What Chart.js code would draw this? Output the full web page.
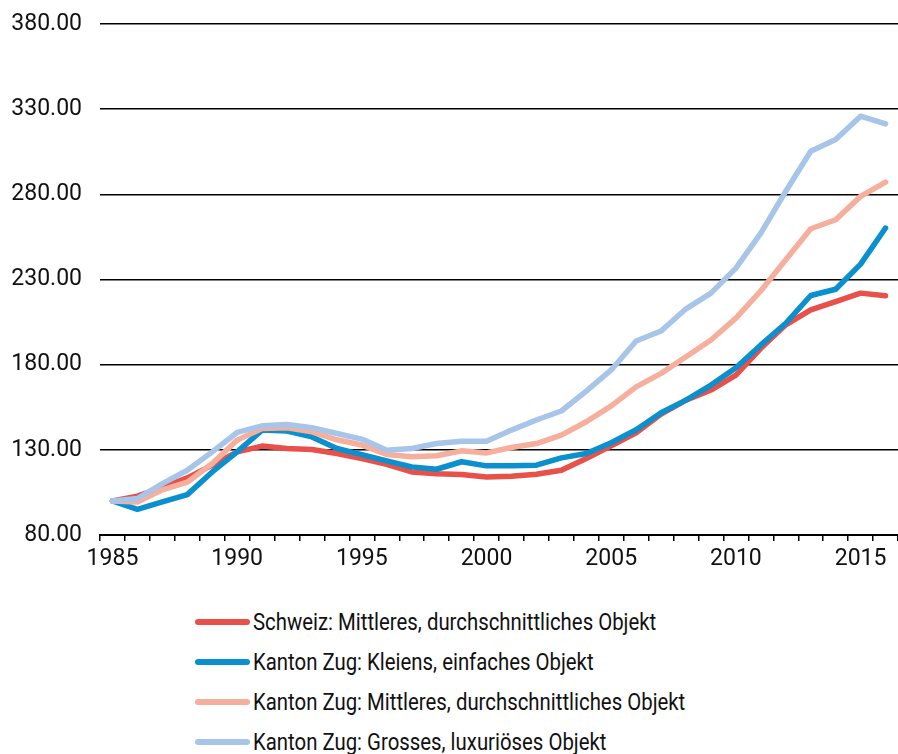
<!DOCTYPE html>
<html>
<head>
<meta charset="utf-8">
<script src="https://cdn.jsdelivr.net/npm/chart.js@4/dist/chart.umd.min.js"></script>
<style>
  html, body { margin: 0; padding: 0; background: #fff; }
  #wrap { position: absolute; left: 0; top: 0; width: 898px; height: 580px; }
  #legend { position: absolute; left: 195px; top: 602px; font-family: Roboto, sans-serif; font-size: 23px; color: #111; }
  .item { height: 40px; display: flex; align-items: center; white-space: nowrap; }
  .swatch { width: 55px; height: 6px; border-radius: 3px; margin-right: 3px; flex: none; }
  .txt { display: inline-block; transform: scaleX(0.885); transform-origin: left center; }
</style>
</head>
<body>
<div id="wrap"><canvas id="chart"></canvas></div>
<div id="legend"></div>
<script>
var years = [1985, 1986, 1987, 1988, 1989, 1990, 1991, 1992, 1993, 1994, 1995, 1996, 1997, 1998, 1999, 2000,
             2001, 2002, 2003, 2004, 2005, 2006, 2007, 2008, 2009, 2010, 2011, 2012, 2013, 2014, 2015, 2016];

var schweizMittel = [100, 102.8, 108, 113.5, 121, 128.8, 132.2, 130.8, 130.2, 127.8, 124.9, 121.5, 117, 116, 115.5, 114.1,
                     114.5, 115.7, 118, 124.9, 132.3, 140, 151, 159.2, 165.1, 173.9, 189.6, 203.4, 212.2, 217, 222, 220.4];
var zugKlein = [100, 95.1, 99.4, 103.7, 117, 128.8, 141.6, 141, 137.6, 130.8, 127.2, 123.5, 120, 118.6, 123, 120.6,
                120.6, 121, 125.3, 127.8, 134.2, 141.8, 151.8, 159.2, 168, 178.2, 191.6, 204.3, 220.6, 224.3, 239, 260.2];
var zugMittel = [100, 99.4, 106.5, 111, 122, 135.7, 142.5, 143, 140.6, 135.9, 132.8, 127.3, 125.9, 126.5, 129.4, 128.2,
                 131.4, 133.7, 138.6, 146.5, 155.8, 167, 174.9, 184.7, 194.5, 207.3, 223.4, 241.6, 259.8, 265.1, 278.8, 287.2];
var zugGross = [100, 101.4, 110.2, 118, 128.8, 140.2, 144.1, 144.9, 143, 139.6, 136.3, 129.8, 130.8, 133.7, 135.1, 135.1,
                141.6, 147.5, 152.8, 164.5, 176.9, 193.9, 199.8, 212.8, 222, 236.7, 257.2, 281.8, 305.3, 312.2, 325.9, 321.4];

var seriesNames = ["Schweiz: Mittleres, durchschnittliches Objekt", "Kanton Zug: Kleiens, einfaches Objekt",
                   "Kanton Zug: Mittleres, durchschnittliches Objekt", "Kanton Zug: Grosses, luxuriöses Objekt"];
var colors = ["#e8504a", "#0a8fcf", "#f6ae9d", "#a6c5e8"];

var yMin = 80, yMax = 380, yStep = 50;
var font = "Roboto, sans-serif";

function line(i, values) {
    return {
        label: seriesNames[i],
        data: values,
        borderColor: colors[i],
        backgroundColor: colors[i],
        borderWidth: 5.5,
        pointRadius: 0,
        tension: 0,
        borderCapStyle: "round",
        borderJoinStyle: "round",
        order: 4 - i
    };
}

var ctx = document.getElementById("chart").getContext("2d");
var chart = new Chart(ctx, {
    type: "line",
    data: {
        labels: years,
        datasets: [line(0, schweizMittel), line(1, zugKlein), line(2, zugMittel), line(3, zugGross)]
    },
    options: {
        responsive: true,
        maintainAspectRatio: false,
        animation: false,
        layout: { padding: { top: 24, right: 0, left: 0, bottom: 0 } },
        plugins: { legend: { display: false }, tooltip: { enabled: false } },
        scales: {
            x: {
                type: "category",
                offset: true,
                grid: { offset: true, drawOnChartArea: false, drawTicks: true, tickLength: 6, color: "#000", lineWidth: 1.5 },
                border: { display: true, color: "#000", width: 2 },
                ticks: {
                    autoSkip: false,
                    maxRotation: 0,
                    padding: 4,
                    color: "#111",
                    font: { family: font, size: 23 },
                    callback: function (v, i) { return years[i] % 5 === 0 ? String(years[i]) : ""; }
                },
                afterFit: function (s) { s.height = 45; s.paddingLeft = 0; s.paddingRight = 0; }
            },
            y: {
                min: yMin,
                max: yMax,
                grid: { color: "#000", lineWidth: 1.5, drawTicks: false },
                border: { display: false },
                ticks: {
                    stepSize: yStep,
                    padding: 18,
                    color: "#111",
                    font: { family: font, size: 23 },
                    callback: function (v) { return v.toFixed(2); }
                },
                afterFit: function (s) { s.width = 100; s.paddingTop = 0; s.paddingBottom = 0; }
            }
        }
    }
});

var legend = document.getElementById("legend");
chart.data.datasets.forEach(function (ds) {
    var item = document.createElement("div");
    item.className = "item";
    var sw = document.createElement("span");
    sw.className = "swatch";
    sw.style.background = ds.borderColor;
    var txt = document.createElement("span");
    txt.className = "txt";
    txt.textContent = ds.label;
    item.appendChild(sw);
    item.appendChild(txt);
    legend.appendChild(item);
});
</script>
</body>
</html>
